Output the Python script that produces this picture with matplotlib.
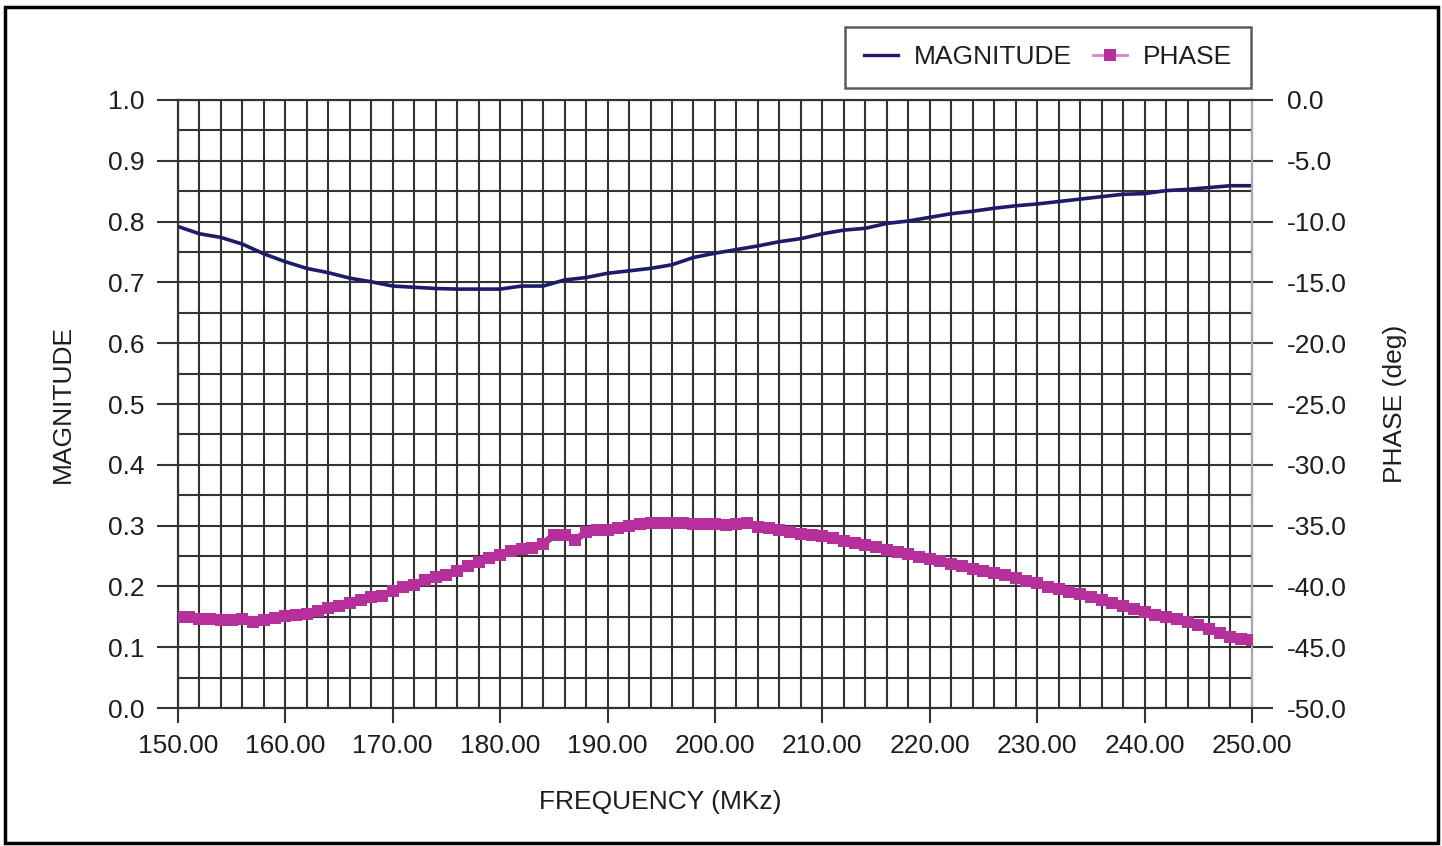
import matplotlib.pyplot as plt
from matplotlib.ticker import MultipleLocator, FormatStrFormatter
from matplotlib.patches import Rectangle
from matplotlib.lines import Line2D

plt.rcParams['font.family'] = ['Liberation Sans', 'DejaVu Sans']

# magnitude, read every 2 MHz
mag_freq = list(range(150, 251, 2))
magnitude = [0.792, 0.780, 0.774, 0.763, 0.747, 0.734, 0.723, 0.716, 0.707, 0.701,
             0.694, 0.692, 0.690, 0.689, 0.689, 0.689, 0.694, 0.694, 0.704, 0.708,
             0.715, 0.719, 0.723, 0.729, 0.741, 0.748, 0.754, 0.760, 0.767, 0.772,
             0.780, 0.786, 0.789, 0.797, 0.801, 0.807, 0.813, 0.817, 0.822, 0.826,
             0.829, 0.833, 0.837, 0.841, 0.845, 0.846, 0.851, 0.853, 0.856, 0.859,
             0.859]

# phase (deg), read every 1 MHz
phase_freq = list(range(150, 251))
phase = [-42.50, -42.50, -42.65, -42.70, -42.80, -42.75, -42.70, -42.95, -42.75, -42.60,
         -42.45, -42.35, -42.25, -42.05, -41.80, -41.60, -41.35, -41.10, -40.85, -40.80,
         -40.40, -40.05, -39.85, -39.50, -39.25, -39.05, -38.70, -38.35, -38.00, -37.70,
         -37.45, -37.10, -36.90, -36.80, -36.50, -35.80, -35.75, -36.20, -35.50, -35.40,
         -35.40, -35.20, -35.05, -34.90, -34.80, -34.75, -34.80, -34.80, -34.85, -34.90,
         -34.90, -34.95, -34.85, -34.75, -35.10, -35.20, -35.40, -35.50, -35.65, -35.80,
         -35.85, -36.05, -36.25, -36.40, -36.60, -36.75, -37.00, -37.15, -37.30, -37.55,
         -37.75, -37.95, -38.15, -38.35, -38.55, -38.70, -38.90, -39.10, -39.30, -39.55,
         -39.75, -40.05, -40.25, -40.45, -40.65, -40.90, -41.10, -41.35, -41.60, -41.85,
         -42.10, -42.35, -42.50, -42.70, -42.95, -43.20, -43.50, -43.80, -44.15, -44.35,
         -44.40]

navy = '#1c1c6b'
magenta = '#b5309a'
gridc = '#333333'
txt = '#1e1e1e'
fs = 19

fig = plt.figure(figsize=(14.42, 8.46), dpi=100)
ax = fig.add_axes([0.1234, 0.1631, 0.7448, 0.7187])
ax2 = ax.twinx()

ax.plot(mag_freq, magnitude, color=navy, lw=2.6, zorder=3)
ax2.plot(phase_freq, phase, color=magenta, lw=5, marker='s', markersize=8.5,
         markeredgewidth=0, zorder=3)

ax.set_xlim(150, 250)
ax.set_ylim(0, 1)
ax2.set_ylim(-50, 0)

ax.xaxis.set_major_locator(MultipleLocator(10))
ax.xaxis.set_minor_locator(MultipleLocator(2))
ax.yaxis.set_major_locator(MultipleLocator(0.1))
ax.yaxis.set_minor_locator(MultipleLocator(0.05))
ax.xaxis.set_major_formatter(FormatStrFormatter('%.2f'))
ax.yaxis.set_major_formatter(FormatStrFormatter('%.1f'))
ax2.yaxis.set_major_locator(MultipleLocator(5))
ax2.yaxis.set_major_formatter(FormatStrFormatter('%.1f'))

ax.grid(which='both', color=gridc, lw=1.5)
ax.set_axisbelow(True)
ax.tick_params(axis='y', which='major', length=15, width=1.5, color=gridc,
               pad=9, labelsize=fs, labelcolor=txt)
ax.tick_params(axis='x', which='major', length=11, width=1.5, color=gridc,
               pad=8, labelsize=fs, labelcolor=txt)
ax.tick_params(which='minor', length=0)
ax2.tick_params(axis='y', length=15, width=1.5, color=gridc, pad=10,
                labelsize=fs, labelcolor=txt)

for a in (ax, ax2):
    for s in a.spines.values():
        s.set_color(gridc)
        s.set_linewidth(1.5)
ax2.spines['right'].set_color('#aaaaaa')

ax.set_xlabel('FREQUENCY (MKz)', fontsize=fs, color=txt)
ax.xaxis.set_label_coords(0.449, -0.135)
ax.set_ylabel('MAGNITUDE', fontsize=fs, color=txt, labelpad=24)
ax2.set_ylabel('PHASE (deg)', fontsize=fs, color=txt, labelpad=26)

handles = [Line2D([], [], color=navy, lw=2.4),
           Line2D([], [], color='#e080c8', lw=2, marker='s', markersize=8,
                  markerfacecolor=magenta, markeredgewidth=0)]
leg = fig.legend(handles, ['MAGNITUDE', 'PHASE'], loc='upper right',
                 bbox_to_anchor=(1251 / 1442, 1 - 27 / 846), borderaxespad=0,
                 ncol=2, fontsize=fs, frameon=True, fancybox=False,
                 handlelength=1.3, columnspacing=0.8, handletextpad=0.6,
                 borderpad=0.7)
leg.get_frame().set_edgecolor('#333333')
leg.get_frame().set_linewidth(1.8)
for t in leg.get_texts():
    t.set_color(txt)

fig.patches.append(Rectangle((5 / 1442, 3 / 846), 1433 / 1442, 836 / 846,
                             transform=fig.transFigure, fill=False,
                             edgecolor='black', lw=2.5))

fig.savefig('out.png', dpi=100)
